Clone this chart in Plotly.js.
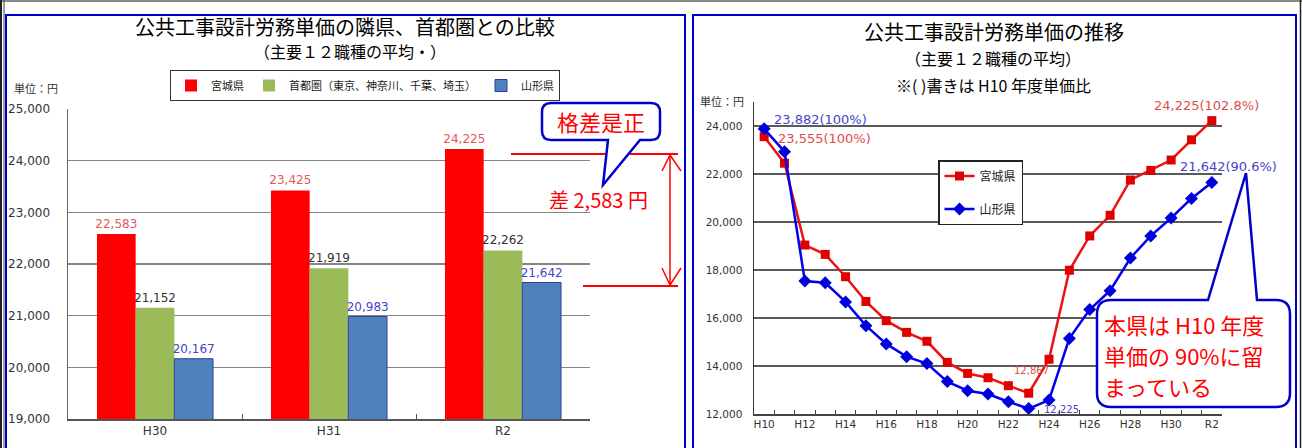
<!DOCTYPE html>
<html>
<head>
<meta charset="utf-8">
<script src="https://cdn.plot.ly/plotly-3.0.1.min.js"></script>
<style>html,body{margin:0;padding:0;background:#fff;}#chart{width:1302px;height:448px;}</style>
</head>
<body>
<div id="chart"></div>
<script>
// ---- data (left: bar comparison) ----
const barCats = ['H30', 'H31', 'R2'];
const miyagiBar = [22583, 23425, 24225];
const shutoBar = [21152, 21919, 22262];
const yamagataBar = [20167, 20983, 21642];
const barNames = ['宮城県', '首都圏（東京、神奈川、千葉、埼玉）', '山形県'];

// ---- data (right: trend) ----
const years = ['H10','H11','H12','H13','H14','H15','H16','H17','H18','H19','H20','H21','H22','H23','H24','H25','H26','H27','H28','H29','H30','H31','R2'];
const miyagiLine = [23555,22450,19040,18650,17720,16690,15890,15400,15030,14150,13690,13510,13180,12867,14280,17990,19420,20280,21750,22150,22583,23425,24225];
const yamagataLine = [23882,22930,17540,17470,16670,15680,14920,14390,14100,13350,12970,12830,12510,12225,12580,15150,16350,17140,18500,19420,20167,20983,21642];
const lineNames = ['宮城県', '山形県'];

const W = 1302, H = 448;
const X = p => p / W, Y = p => 1 - p / H;
const JP = 'Noto Sans CJK JP';
const NUM = 'DejaVu Sans';
const fmt = v => v.toLocaleString('en-US');

const barText = {texttemplate:'%{y:,}', textposition:'outside', constraintext:'none', cliponaxis:false,
  xaxis:'x', yaxis:'y', legend:'legend'};
const traces = [
  Object.assign({type:'bar', x:barCats, y:miyagiBar, name:barNames[0], marker:{color:'#ff0000'},
   textfont:{family:NUM, size:12, color:'#e05a5a'}}, barText),
  Object.assign({type:'bar', x:barCats, y:shutoBar, name:barNames[1], marker:{color:'#9bbb59'},
   textfont:{family:NUM, size:12, color:'#333333'}}, barText),
  Object.assign({type:'bar', x:barCats, y:yamagataBar, name:barNames[2], marker:{color:'#4f81bd', line:{color:'#2a3f9a', width:1}},
   textfont:{family:NUM, size:12, color:'#4646c8'}}, barText),
  {type:'scatter', mode:'lines+markers', x:years, y:miyagiLine, name:lineNames[0],
   line:{color:'#ee1111', width:2.5}, marker:{symbol:'square', size:9, color:'#e00000'},
   xaxis:'x2', yaxis:'y2', legend:'legend2', legendgroup:'m', cliponaxis:false},
  {type:'scatter', mode:'lines+markers', x:years, y:yamagataLine, name:lineNames[1],
   line:{color:'#0000ee', width:2.5}, marker:{symbol:'diamond', size:10, color:'#0000dd'},
   xaxis:'x2', yaxis:'y2', legend:'legend2', legendgroup:'y', cliponaxis:false}
];

function roundedCallout(x0, y0, x1, y1, r, tail) {
  const P = (x, y) => X(x).toFixed(5) + ',' + Y(y).toFixed(5);
  let d = 'M' + P(x0 + r, y0);
  if (tail.side === 'top') d += ' L' + P(tail.a, y0) + ' L' + P(tail.tip[0], tail.tip[1]) + ' L' + P(tail.b, y0);
  d += ' L' + P(x1 - r, y0) + ' Q' + P(x1, y0) + ' ' + P(x1, y0 + r);
  d += ' L' + P(x1, y1 - r) + ' Q' + P(x1, y1) + ' ' + P(x1 - r, y1);
  if (tail.side === 'bottom') d += ' L' + P(tail.b, y1) + ' L' + P(tail.tip[0], tail.tip[1]) + ' L' + P(tail.a, y1);
  d += ' L' + P(x0 + r, y1) + ' Q' + P(x0, y1) + ' ' + P(x0, y1 - r);
  d += ' L' + P(x0, y0 + r) + ' Q' + P(x0, y0) + ' ' + P(x0 + r, y0) + ' Z';
  return {type:'path', xref:'paper', yref:'paper', path:d, fillcolor:'#ffffff', line:{color:'#0000cc', width:2.5}, layer:'above'};
}
function seg(x0, y0, x1, y1, color, width) {
  return {type:'line', xref:'paper', yref:'paper', x0:X(x0), y0:Y(y0), x1:X(x1), y1:Y(y1), line:{color:color, width:width}, layer:'above'};
}
function rect(x0, y0, x1, y1, color, width) {
  return {type:'rect', xref:'paper', yref:'paper', x0:X(x0), y0:Y(y0), x1:X(x1), y1:Y(y1), line:{color:color, width:width}, fillcolor:'rgba(0,0,0,0)', layer:'above'};
}
function txt(x, y, text, size, color, anchor, family) {
  return {xref:'paper', yref:'paper', x:X(x), y:Y(y), text:text, showarrow:false,
    xanchor:anchor || 'center', yanchor:'middle', font:{family:family || JP, size:size, color:color || '#000'}};
}

const shapes = [
  seg(0, 1, 1302, 1, '#8a8a8a', 2),
  seg(1, 0, 1, 448, '#222', 2),
  seg(4, 0, 4, 448, '#444', 1),
  seg(1300.5, 0, 1300.5, 448, '#222', 1.5),
  rect(6, 15, 685, 452, '#0000cc', 2),
  rect(693, 15, 1296, 452, '#0000cc', 2),
  seg(511, 154, 678, 154, '#ff0000', 2),
  seg(583, 286, 678, 286, '#ff0000', 2),
  seg(670, 155, 670, 285, '#ff0000', 1.5),
  seg(670, 155, 662, 171, '#ff0000', 1.5),
  seg(670, 155, 681, 171, '#ff0000', 1.5),
  seg(670, 285, 662, 268, '#ff0000', 1.5),
  seg(670, 285, 681, 268, '#ff0000', 1.5),
  roundedCallout(542, 103, 660, 140, 9, {side:'bottom', a:608, b:640, tip:[603, 185]}),
  roundedCallout(1097, 300, 1290, 407, 14, {side:'top', a:1208, b:1257, tip:[1246, 173]})
];

const pct = (v, base) => (v / base * 100);
const mLast = miyagiLine[miyagiLine.length - 1], yLast = yamagataLine[yamagataLine.length - 1];
const iMin = 13;

const annotations = [
  txt(345, 26, '公共工事設計労務単価の隣県、首都圏との比較', 20, '#000'),
  txt(350, 51, '（主要１２職種の平均・）', 16, '#000'),
  txt(12, 88, '単位：円', 11, '#333', 'left'),
  txt(601, 121, '格差是正', 22, '#ff0000'),
  txt(598, 199, '差 2,583 円', 20, '#ff0000'),
  txt(994, 31, '公共工事設計労務単価の推移', 20, '#000'),
  txt(993, 58, '（主要１２職種の平均）', 16, '#000'),
  txt(993, 85, '※( )書きは H10 年度単価比', 16, '#000'),
  txt(698, 101, '単位：円', 11, '#333', 'left'),
  txt(1102, 324, '本県は H10 年度', 22, '#ff0000', 'left'),
  txt(1102, 355, '単価の 90%に留', 22, '#ff0000', 'left'),
  txt(1102, 386, 'まっている', 22, '#ff0000', 'left'),
  {xref:'x2', yref:'y2', x:years[0], y:yamagataLine[0], text:fmt(yamagataLine[0]) + '(100%)', showarrow:false,
   xanchor:'left', yanchor:'middle', xshift:8, yshift:9, font:{family:NUM, size:13, color:'#4646c8'}},
  {xref:'x2', yref:'y2', x:years[0], y:miyagiLine[0], text:fmt(miyagiLine[0]) + '(100%)', showarrow:false,
   xanchor:'left', yanchor:'middle', xshift:12, yshift:-2, font:{family:NUM, size:13, color:'#dd4d4d'}},
  {xref:'x2', yref:'y2', x:years[years.length - 1], y:mLast, text:fmt(mLast) + '(' + pct(mLast, miyagiLine[0]).toFixed(1) + '%)', showarrow:false,
   xanchor:'center', yanchor:'middle', xshift:-5, yshift:15, font:{family:NUM, size:13, color:'#dd4d4d'}},
  {xref:'x2', yref:'y2', x:years[years.length - 1], y:yLast, text:fmt(yLast) + '(' + pct(yLast, yamagataLine[0]).toFixed(1) + '%)', showarrow:false,
   xanchor:'center', yanchor:'middle', xshift:17, yshift:16, font:{family:NUM, size:13, color:'#4646c8'}},
  {xref:'x2', yref:'y2', x:years[iMin], y:miyagiLine[iMin], text:fmt(miyagiLine[iMin]), showarrow:false,
   xanchor:'center', yanchor:'middle', xshift:3, yshift:23, font:{family:NUM, size:10, color:'#dd4d4d'}},
  {xref:'x2', yref:'y2', x:years[iMin], y:yamagataLine[iMin], text:fmt(yamagataLine[iMin]), showarrow:false,
   xanchor:'center', yanchor:'middle', xshift:33, yshift:-1, font:{family:NUM, size:10, color:'#4646c8'}}
];

const layout = {
  width: W, height: H,
  margin: {l:0, r:0, t:0, b:0},
  paper_bgcolor: '#ffffff', plot_bgcolor: '#ffffff',
  font: {family: JP, color: '#000'},
  showlegend: true,
  barmode: 'group', bargap: 0.333, bargroupgap: 0,
  xaxis: {domain:[X(68), X(590)], anchor:'y', type:'category', categoryarray:barCats,
    showline:true, linecolor:'#555', linewidth:1.5, ticks:'inside', ticklen:5, tickcolor:'#555', tickson:'boundaries',
    tickfont:{family:NUM, size:12, color:'#333'}, showgrid:false, fixedrange:true, tickangle:0},
  yaxis: {domain:[Y(419), Y(109)], anchor:'x', range:[19000, 25000], dtick:1000, tickformat:',d',
    showline:true, linecolor:'#666', linewidth:1.5, showgrid:true, gridcolor:'#858585', gridwidth:1.5,
    ticks:'', ticklabelstandoff:14, tickfont:{family:NUM, size:12, color:'#333'}, zeroline:false, fixedrange:true},
  xaxis2: {domain:[X(754), X(1222)], anchor:'y2', type:'category', categoryarray:years, range:[-0.5, years.length - 0.5],
    tickvals: years, ticktext: years.map((y, i) => i % 2 === 0 ? y : ''), tickangle:0,
    showline:true, linecolor:'#444', linewidth:1.5, ticks:'inside', ticklen:4, tickcolor:'#444', tickson:'boundaries',
    tickfont:{family:NUM, size:10.5, color:'#333'}, showgrid:false, fixedrange:true},
  yaxis2: {domain:[Y(414), Y(102)], anchor:'x2', range:[12000, 25000], tickvals:[12000,14000,16000,18000,20000,22000,24000], tickformat:',d',
    showline:true, linecolor:'#333', linewidth:1.5, showgrid:true, gridcolor:'#5a5a5a', gridwidth:1.2,
    ticks:'', ticklabelstandoff:8, tickfont:{family:NUM, size:10.5, color:'#333'}, zeroline:false, fixedrange:true},
  legend: {orientation:'h', x:X(170), y:Y(70), xanchor:'left', yanchor:'top',
    bordercolor:'#333', borderwidth:1, bgcolor:'#fff', font:{family:JP, size:11, color:'#222'}},
  legend2: {orientation:'v', x:X(938), y:Y(160), xanchor:'left', yanchor:'top', traceorder:'grouped', tracegroupgap:14,
    bordercolor:'#222', borderwidth:1.5, bgcolor:'#fff', font:{family:JP, size:12, color:'#222'}},
  shapes: shapes,
  annotations: annotations
};

Plotly.newPlot('chart', traces, layout, {displayModeBar:false, staticPlot:true});
</script>
</body>
</html>
